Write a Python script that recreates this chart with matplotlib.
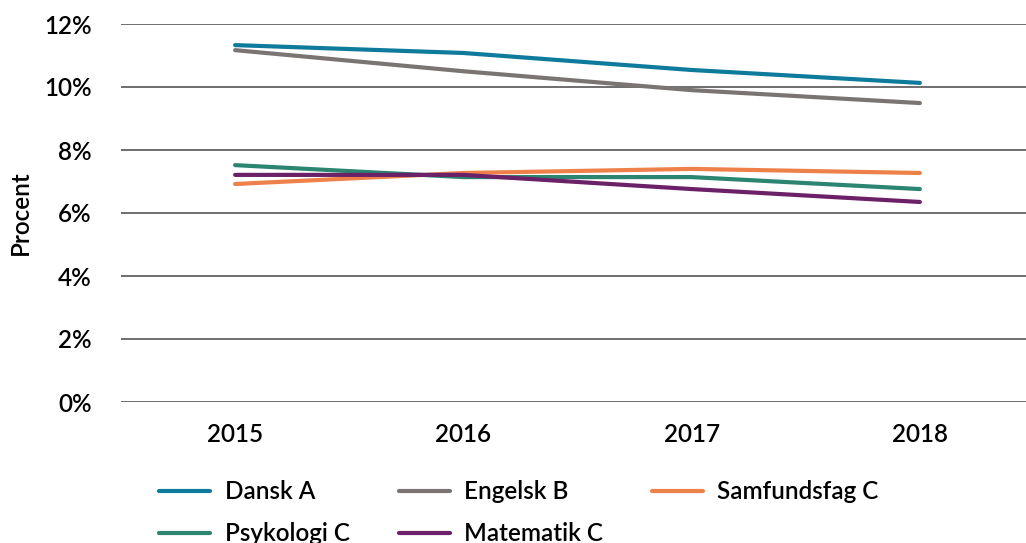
import matplotlib
matplotlib.use("Agg")
import matplotlib.pyplot as plt
from matplotlib.ticker import PercentFormatter

plt.rcParams['font.family'] = ['Lato', 'DejaVu Sans']
plt.rcParams['font.weight'] = 'semibold'
plt.rcParams['axes.labelweight'] = 'semibold'

years = ['2015', '2016', '2017', '2018']
dansk_a = [11.33, 11.08, 10.54, 10.13]
engelsk_b = [11.17, 10.50, 9.90, 9.49]
samfundsfag_c = [6.92, 7.27, 7.40, 7.27]
psykologi_c = [7.52, 7.14, 7.14, 6.76]
matematik_c = [7.21, 7.21, 6.76, 6.35]

series = [
    ('Dansk A', dansk_a, '#0f7b9c'),
    ('Engelsk B', engelsk_b, '#7a7573'),
    ('Samfundsfag C', samfundsfag_c, '#ed8149'),
    ('Psykologi C', psykologi_c, '#2b8570'),
    ('Matematik C', matematik_c, '#6b2168'),
]

fs = 17.5

fig = plt.figure(figsize=(10.26, 5.43), dpi=100)
ax = fig.add_axes([121 / 1026, 141 / 543, 913 / 1026, 378 / 543])

lines = {}
for name, vals, color in series:
    ln, = ax.plot(range(len(years)), vals, color=color, lw=3,
                  solid_capstyle='round', label=name)
    lines[name] = ln

ax.set_xlim(-0.5, len(years) - 0.5)
ax.set_ylim(0, 12)
ax.set_yticks(range(0, 13, 2))
ax.yaxis.set_major_formatter(PercentFormatter(decimals=0))
ax.set_xticks(range(len(years)))
ax.set_xticklabels(years)
ax.grid(axis='y', color='#555555', lw=1.2)
ax.set_axisbelow(True)
for s in ax.spines.values():
    s.set_visible(False)
ax.tick_params(axis='both', length=0, labelsize=fs)
ax.tick_params(axis='y', pad=21)
ax.tick_params(axis='x', pad=15)
ax.set_ylabel('Procent', fontsize=fs, labelpad=9)

# row-major order in a 3-column legend
order = ['Dansk A', 'Psykologi C', 'Engelsk B', 'Matematik C', 'Samfundsfag C']
fig.legend([lines[n] for n in order], order, ncol=3, frameon=False,
           loc='upper left', bbox_to_anchor=(140 / 1026, 1 - 461 / 543),
           fontsize=fs, handlelength=2.1, handletextpad=0.6,
           columnspacing=2.0, labelspacing=0.78, borderpad=0.3)

fig.savefig('out.png', dpi=100)
